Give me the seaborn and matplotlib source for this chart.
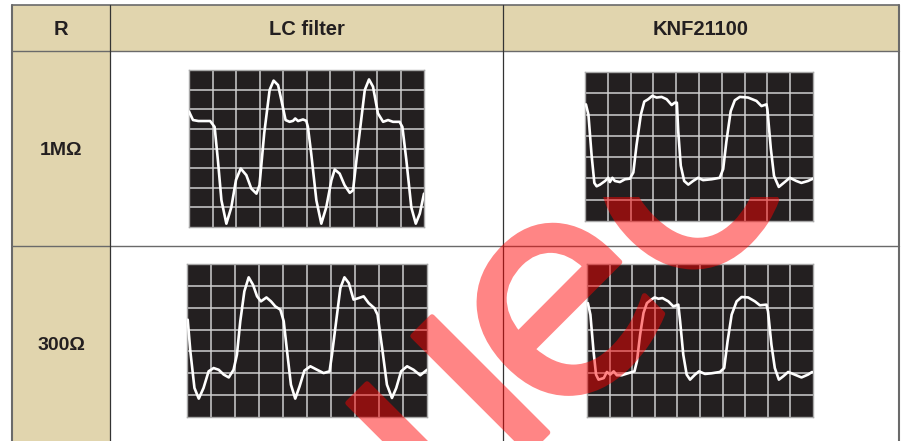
import matplotlib

matplotlib.use("Agg")
import matplotlib.patheffects as pe
import matplotlib.pyplot as plt
import seaborn as sns
from matplotlib.patches import Rectangle

# table text
col_headers = ["R", "LC filter", "KNF21100"]
row_labels = ["1M\u03a9", "300\u03a9"]

# scope traces, grid units (x 0..10, y 0..rows)
lc_1m_x = [0.0, 0.17, 0.4, 0.9, 1.09, 1.23, 1.38, 1.59, 1.8, 2.0, 2.2, 2.44, 2.65, 2.87, 3.0, 3.2, 3.43,
           3.6, 3.79, 3.93, 4.11, 4.28, 4.43, 4.52, 4.64, 4.85, 4.99, 5.06, 5.2, 5.42, 5.63, 5.84, 6.06,
           6.2, 6.41, 6.62, 6.84, 6.98, 7.19, 7.48, 7.66, 7.83, 8.04, 8.26, 8.47, 8.68, 8.96, 9.08, 9.25,
           9.46, 9.65, 9.82, 10.0]
lc_1m_y = [5.88, 5.45, 5.4, 5.4, 5.1, 3.4, 1.36, 0.17, 1.0, 2.4, 2.98, 2.64, 1.96, 1.7, 2.13, 4.77, 6.98,
           7.46, 7.23, 6.47, 5.45, 5.36, 5.41, 5.53, 5.4, 5.48, 5.41, 5.1, 3.74, 1.36, 0.17, 1.0, 2.38,
           2.93, 2.72, 2.13, 1.74, 1.87, 4.09, 6.98, 7.52, 7.15, 5.79, 5.36, 5.45, 5.36, 5.36, 5.1, 3.4,
           1.0, 0.17, 0.68, 1.7]

knf_1m_x = [0.04, 0.15, 0.29, 0.41, 0.51, 0.66, 0.88, 1.02, 1.09, 1.2, 1.31, 1.53, 1.75, 1.97, 2.12, 2.26,
            2.45, 2.6, 2.77, 2.95, 3.14, 3.36, 3.58, 3.8, 3.94, 4.03, 4.09, 4.2, 4.35, 4.53, 4.74, 4.96,
            5.18, 5.55, 5.91, 6.06, 6.2, 6.39, 6.57, 6.79, 7.15, 7.52, 7.74, 7.96, 8.0, 8.15, 8.29, 8.5,
            8.76, 8.98, 9.27, 9.49, 9.78, 10.0]
knf_1m_y = [5.48, 5.0, 3.08, 1.79, 1.63, 1.71, 1.88, 2.03, 1.83, 2.03, 1.88, 1.83, 1.96, 1.99, 2.28, 3.56,
            5.0, 5.61, 5.72, 5.88, 5.8, 5.83, 5.72, 5.45, 5.56, 5.56, 4.2, 2.6, 1.88, 1.71, 1.88, 2.03,
            1.92, 1.96, 2.03, 2.44, 3.72, 5.16, 5.67, 5.83, 5.8, 5.64, 5.4, 5.48, 5.24, 3.4, 2.12, 1.6,
            1.83, 2.03, 1.88, 1.79, 1.88, 1.99]

lc_300_x = [0.03, 0.14, 0.31, 0.49, 0.69, 0.9, 1.11, 1.32, 1.53, 1.74, 1.94, 2.08, 2.22, 2.39, 2.57, 2.75,
            2.92, 3.08, 3.31, 3.5, 3.68, 3.89, 4.03, 4.17, 4.33, 4.51, 4.69, 4.89, 5.14, 5.42, 5.69, 5.94,
            6.04, 6.25, 6.39, 6.56, 6.74, 6.94, 7.15, 7.36, 7.57, 7.81, 7.94, 8.13, 8.33, 8.54, 8.72, 8.92,
            9.17, 9.44, 9.72, 10.0]
lc_300_y = [4.45, 3.0, 1.33, 0.84, 1.33, 2.09, 2.24, 2.16, 1.94, 1.81, 2.16, 2.85, 4.38, 5.75, 6.39, 6.05,
            5.52, 5.29, 5.47, 5.29, 5.06, 4.91, 4.38, 3.0, 1.48, 0.84, 1.4, 2.12, 2.32, 2.16, 2.01, 2.09,
            2.85, 4.68, 5.9, 6.39, 6.13, 5.37, 5.44, 5.52, 5.21, 4.98, 4.68, 3.16, 1.48, 0.87, 1.33, 2.09,
            2.32, 2.16, 1.91, 2.16]

knf_300_x = [0.04, 0.15, 0.29, 0.4, 0.51, 0.74, 0.88, 1.03, 1.18, 1.32, 1.54, 1.84, 2.1, 2.21, 2.35, 2.5,
             2.65, 2.84, 2.99, 3.16, 3.34, 3.6, 3.82, 4.04, 4.12, 4.26, 4.41, 4.56, 4.78, 4.96, 5.22, 5.51,
             5.88, 6.07, 6.22, 6.4, 6.62, 6.84, 7.13, 7.43, 7.65, 7.94, 8.01, 8.16, 8.31, 8.49, 8.68, 8.9,
             9.19, 9.49, 9.78, 9.96]
knf_300_y = [5.21, 4.68, 3.0, 1.94, 1.71, 1.78, 2.06, 1.94, 2.09, 1.91, 1.91, 2.01, 2.09, 2.55, 3.77, 4.76,
             5.21, 5.37, 5.47, 5.41, 5.44, 5.29, 5.06, 5.14, 4.38, 2.85, 1.94, 1.71, 1.94, 2.09, 1.97, 2.0,
             2.06, 2.24, 3.46, 4.68, 5.29, 5.49, 5.47, 5.29, 5.11, 5.14, 4.83, 3.31, 2.24, 1.71, 1.86, 2.06,
             1.94, 1.81, 1.94, 2.06]

# watermark glyphs
wm_glyphs = ["\u0131", "\u0131", "e", "c"]

W, H = 903, 441
BEIGE = "#e1d5ae"
LINE = "#6a6a6a"


def fade(im, dpi):
    # translucent watermark without double-blending fill and stroke
    im = im.copy()
    im[..., 3] *= 0.48
    return im, 0, 0


def add_scope(fig, box, rows, xs, ys):
    x0, y0, x1, y1 = box
    sax = fig.add_axes([x0 / W, 1 - y1 / H, (x1 - x0) / W, (y1 - y0) / H])
    sax.set_facecolor("#231f20")
    sns.lineplot(x=xs, y=ys, ax=sax, color="white", lw=1.9, sort=False, zorder=3,
                 solid_joinstyle="round")
    sax.set_xlim(0, 10)
    sax.set_ylim(0, rows)
    sax.set_xticks(range(1, 10))
    sax.set_yticks(range(1, rows))
    sax.grid(True, color="#cfcfcf", lw=1.1)
    sax.tick_params(length=0, labelbottom=False, labelleft=False)
    for sp in sax.spines.values():
        sp.set_color("#a8a8a8")
        sp.set_linewidth(1.0)
    return sax


def main() -> None:
    sns.set_theme(style="white")
    plt.rcParams["font.family"] = ["Liberation Sans", "DejaVu Sans"]

    fig = plt.figure(figsize=(W / 100, H / 100), dpi=100)
    ax = fig.add_axes([0, 0, 1, 1])
    ax.set_xlim(0, W)
    ax.set_ylim(H, 0)
    ax.axis("off")

    left, c1, c2, right = 12, 110, 503, 899
    top, hdr, mid = 5, 51, 246

    # cells
    ax.add_patch(Rectangle((left, top), right - left, hdr - top, fc=BEIGE, ec="none"))
    ax.add_patch(Rectangle((left, hdr), c1 - left, H - hdr + 5, fc=BEIGE, ec="none"))
    ax.plot([left, right], [top, top], color=LINE, lw=1.2)
    ax.plot([left, right], [hdr, hdr], color=LINE, lw=1.0)
    ax.plot([left, right], [mid, mid], color=LINE, lw=1.0)
    for xv in (left, right):
        ax.plot([xv, xv], [top, H], color=LINE, lw=1.5)
    for xv in (c1, c2):
        ax.plot([xv, xv], [top, H], color="#333333", lw=0.9)

    for label, xc in zip(col_headers, [(left + c1) / 2, (c1 + c2) / 2, (c2 + right) / 2]):
        ax.text(xc, 29.5, label, ha="center", va="center", fontsize=14.5, fontweight="bold",
                color="#231f20")
    for label, yc in zip(row_labels, [150.5, 345.5]):
        ax.text(61.5, yc, label, ha="center", va="center", fontsize=14, fontweight="bold",
                color="#231f20")

    add_scope(fig, (189, 70, 424, 227), 8, lc_1m_x, lc_1m_y)
    add_scope(fig, (585, 72, 813, 221), 7, knf_1m_x, knf_1m_y)
    add_scope(fig, (187, 264, 427, 417), 7, lc_300_x, lc_300_y)
    add_scope(fig, (587, 264, 813, 417), 7, knf_300_x, knf_300_y)

    # red watermark on top
    wax = fig.add_axes([0, 0, 1, 1], facecolor="none")
    wax.set_xlim(0, W)
    wax.set_ylim(H, 0)
    wax.axis("off")
    clip = Rectangle((0, 197), W, H, transform=wax.transData, fc="none", ec="none")
    anchors = [(473, 509), (538, 442), (619, 369), (736, 249)]
    for g, (gx, gy) in zip(wm_glyphs, anchors):
        t = wax.text(gx, gy, g, rotation=45, rotation_mode="anchor", ha="center", va="baseline",
                     fontsize=215, color="#ff0000", family="DejaVu Sans", clip_on=True,
                     path_effects=[pe.Stroke(linewidth=4, foreground="#ff0000")])
        t.set_clip_path(clip)
        t.set_agg_filter(fade)

    fig.savefig("out.png", dpi=100)
    plt.close(fig)


if __name__ == "__main__":
    main()
